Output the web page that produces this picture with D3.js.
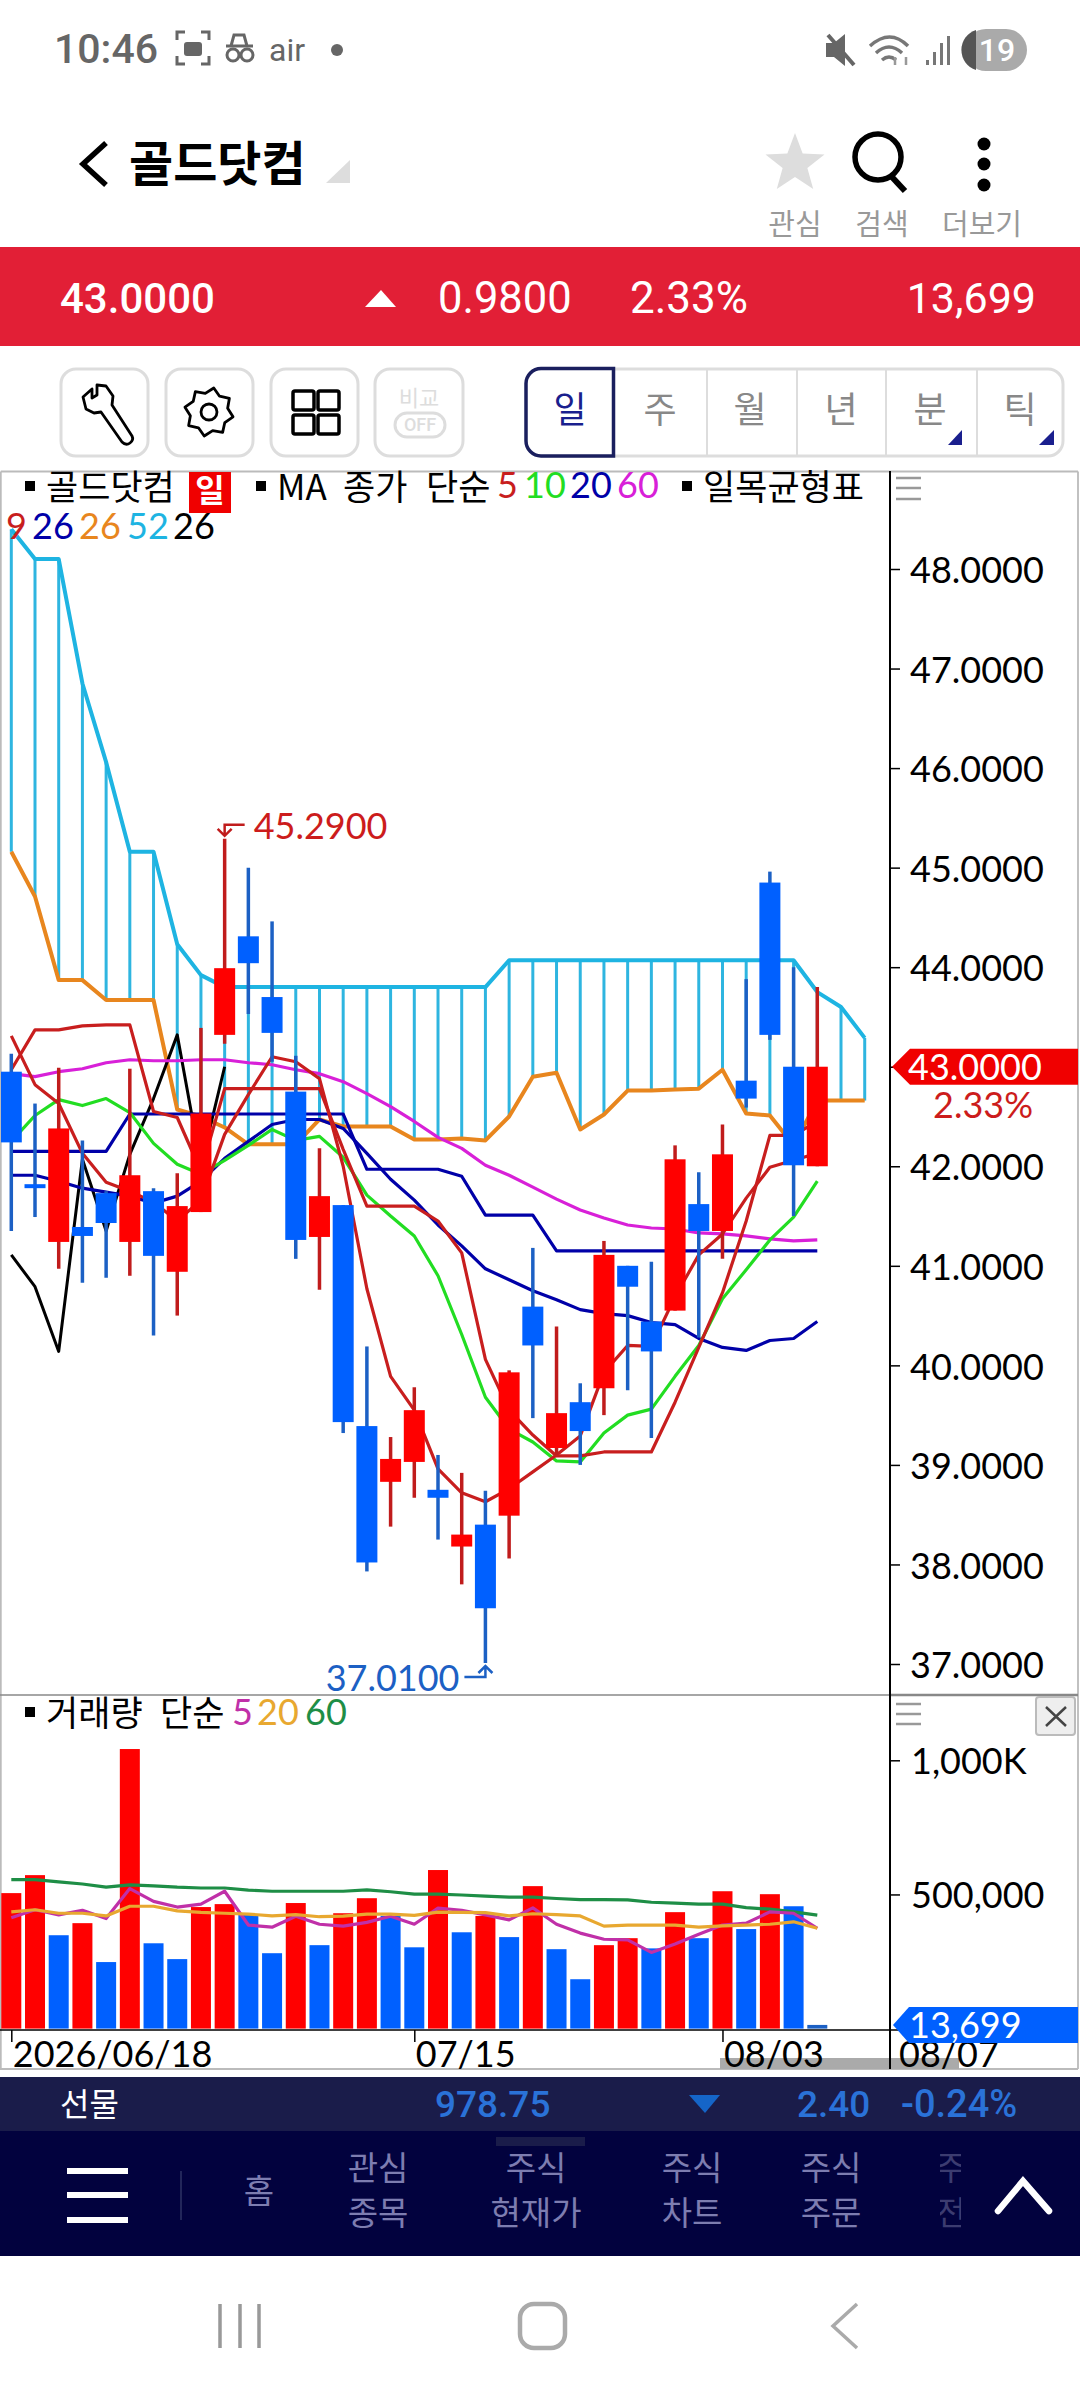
<!DOCTYPE html>
<html>
<head>
<meta charset="utf-8">
<title>골드닷컴</title>
<script src="https://cdn.jsdelivr.net/npm/d3@7"></script>
<style>
  html, body { margin: 0; padding: 0; background: #fff; }
  svg { display: block; }
  text { font-family: "Lato", "Noto Sans CJK KR", sans-serif; }
  .kr { font-family: "Noto Sans CJK KR", sans-serif; }
  .rb { font-family: "Roboto", "Noto Sans CJK KR", sans-serif; }
</style>
</head>
<body>
<div id="chart"></div>
<script>
// candles
var opens  = [42.95,41.82,41.24,41.39,41.73,41.24,41.75,40.94,41.54,43.32,44.31,43.70,42.75,41.29,41.61,39.39,38.83,39.03,38.75,38.18,38.40,38.49,40.59,39.17,39.63,39.77,41.00,40.44,40.55,41.62,41.35,42.86,44.85,43.00,42.00];
var highs  = [43.13,42.63,42.99,42.26,41.75,42.98,41.78,41.93,43.39,45.29,45.00,44.46,43.11,42.18,41.61,40.19,39.28,39.78,39.10,38.92,38.74,39.95,41.18,40.39,39.82,41.25,41.00,41.04,42.21,41.94,42.42,43.88,44.96,44.00,43.80];
var lows   = [41.35,41.49,40.97,40.83,40.88,40.90,40.30,40.50,41.54,43.23,43.53,43.05,41.07,40.76,39.32,37.93,38.38,38.67,38.25,37.80,37.01,38.06,39.47,39.10,39.00,39.50,39.75,39.27,40.55,40.28,41.07,42.59,43.27,41.50,42.00];
var closes = [42.24,41.78,42.38,41.30,41.43,41.91,41.10,41.60,42.53,43.99,44.04,43.34,41.26,41.70,39.43,38.02,39.06,39.55,38.67,38.30,37.56,39.93,40.20,39.52,39.34,41.11,40.79,40.14,42.07,41.35,42.12,42.68,43.32,42.01,43.00];

// moving averages on price
var ma5  = [43.31,42.82,42.63,42.13,41.84,41.75,41.64,41.45,41.66,42.32,42.72,43.10,43.05,42.88,42.00,40.77,39.89,39.55,38.96,38.72,38.63,38.76,38.93,39.10,39.29,39.93,40.20,40.19,40.69,41.11,41.32,41.68,41.99,42.06,42.13];
var ma10 = [42.25,42.51,42.67,42.61,42.68,42.54,42.23,42.02,41.92,42.06,42.21,42.37,42.26,42.30,42.09,41.71,41.50,41.30,40.90,40.31,39.68,39.36,39.23,39.04,39.03,39.32,39.50,39.56,39.89,40.20,40.67,40.96,41.26,41.49,41.85];
var ma20 = [41.91,41.91,41.85,41.78,41.74,41.70,41.63,41.70,41.85,42.08,42.25,42.42,42.47,42.47,42.38,42.13,41.87,41.66,41.41,41.20,40.97,40.86,40.75,40.66,40.56,40.52,40.50,40.43,40.41,40.27,40.18,40.15,40.25,40.27,40.44];
var ma60 = [42.93,42.90,42.95,42.98,43.04,43.07,43.06,43.06,43.07,43.07,43.04,43.02,42.97,42.93,42.85,42.73,42.60,42.45,42.29,42.18,42.01,41.91,41.79,41.67,41.56,41.48,41.41,41.38,41.37,41.33,41.32,41.30,41.27,41.25,41.26];

// ichimoku
var conversion = [42.97,43.37,43.37,43.41,43.42,43.42,42.55,42.49,41.95,42.78,42.78,42.78,42.78,42.78,42.17,41.60,41.60,41.60,41.45,41.13,40.06,39.55,39.30,39.09,39.09,39.13,39.13,39.13,39.63,40.18,40.73,41.45,42.31,42.31,42.45];
var baseLine = [42.15,42.15,42.15,42.15,42.15,42.525,42.525,42.525,42.525,42.525,42.525,42.525,42.525,42.525,42.525,41.97,41.97,41.97,41.97,41.90,41.51,41.51,41.51,41.15,41.15,41.15,41.15,41.15,41.15,41.15,41.15,41.15,41.15,41.15,41.15];
var spanA = [45.16,44.71,43.87,43.87,43.67,43.67,43.67,42.57,42.50,42.39,42.22,42.22,42.22,42.47,42.40,42.40,42.40,42.27,42.27,42.28,42.26,42.50,42.90,42.94,42.37,42.52,42.76,42.76,42.77,42.78,42.97,42.53,42.51,42.21,42.66,42.66,42.66];
var spanB = [48.40,48.10,48.10,46.85,46.06,45.16,45.16,44.23,43.92,43.80,43.80,43.80,43.80,43.80,43.80,43.80,43.80,43.80,43.80,43.80,43.80,44.07,44.07,44.07,44.07,44.07,44.07,44.07,44.07,44.07,44.07,44.07,44.07,44.07,43.75,43.60,43.29];
var lagging = [41.11,40.79,40.14,42.07,41.35,42.12,42.68,43.32,42.01,43.00];

// volume, volumeUp is 1 for a red bar and 0 for a blue one
var volumes = [505000,572000,348000,393000,248000,1042000,318000,259000,453000,464000,427000,281000,468000,311000,430000,486000,420000,303000,591000,359000,420000,341000,531000,296000,184000,311000,337000,299000,434000,337000,512000,371000,501000,456000,13699];
var volumeUp = [1,1,0,1,0,1,0,0,1,1,0,0,1,0,1,1,0,0,1,0,1,0,1,0,0,1,1,0,1,0,1,0,1,0,0];
var volMa5  = [413000,443000,424000,441000,410000,522000,474000,453000,464000,512000,386000,378000,419000,389000,382000,396000,419000,389000,449000,441000,424000,405000,450000,389000,356000,333000,331000,284000,315000,352000,386000,393000,435000,430000,374000];
var volMa20 = [435000,443000,430000,430000,420000,456000,456000,439000,433000,430000,427000,420000,425000,417000,419000,427000,427000,422000,434000,433000,432000,420000,428000,425000,420000,382000,386000,386000,386000,378000,383000,386000,389000,398000,374000];
var volMa60 = [555000,555000,547000,539000,527000,536000,532000,527000,524000,524000,516000,512000,512000,512000,512000,517000,510000,501000,501000,498000,494000,490000,490000,485000,481000,481000,480000,471000,468000,464000,464000,451000,445000,435000,423000];

// tick labels
var priceTicks = [37,38,39,40,41,42,43,44,45,46,47,48];
var volumeTicks = [500000,1000000];
var dateTickIndex = [0,17,30];
var dateTickLabels = ["2026/06/18","07/15","08/03"];
var lastDateLabel = "08/07";

var RED = "#ff0000", BLUE = "#0060ff", WICK_RED = "#c01c1c", WICK_BLUE = "#1c60c4";

var svg = d3.select("#chart").append("svg")
    .attr("width", 1080)
    .attr("height", 2400)
    .attr("viewBox", "0 0 1080 2400");

var x = d3.scaleLinear().domain([0, 34]).range([11.3, 817.3]);
var y = d3.scaleLinear().domain([37, 48]).range([1664, 569]);
var yVol = d3.scaleLinear().domain([0, 1000000]).range([2028.6, 1760.3]);

function label(g, px, py, txt, size, color, anchor, cls, weight) {
    return g.append("text")
        .attr("x", px)
        .attr("y", py)
        .attr("font-size", size)
        .attr("fill", color)
        .attr("text-anchor", anchor || "start")
        .attr("class", cls || null)
        .attr("font-weight", weight || null)
        .text(txt);
}

function lineOf(scale) {
    return d3.line()
        .x(function(d, i) { return x(i); })
        .y(function(d) { return scale(d); });
}

function drawSeries(g, values, scale, color, width) {
    g.append("path")
        .attr("d", lineOf(scale)(values))
        .attr("fill", "none")
        .attr("stroke", color)
        .attr("stroke-width", width)
        .attr("stroke-linejoin", "round");
}

/* ---------- status bar and header ---------- */
var header = svg.append("g");

label(header, 54, 63, "10:46", 41, "#666", "start", "rb", 500);
header.append("path").attr("d", "M177 40v-8h8M201 32h8v8M209 56v8h-8M185 64h-8v-8").attr("fill", "none").attr("stroke", "#666").attr("stroke-width", 3);
header.append("rect").attr("x", 184).attr("y", 42).attr("width", 18).attr("height", 14).attr("rx", 3).attr("fill", "#666");
header.append("path").attr("d", "M226 46h27M231 46l3-11h10l3 11").attr("fill", "none").attr("stroke", "#666").attr("stroke-width", 3);
header.append("circle").attr("cx", 233).attr("cy", 55).attr("r", 6).attr("fill", "none").attr("stroke", "#666").attr("stroke-width", 3);
header.append("circle").attr("cx", 247).attr("cy", 55).attr("r", 6).attr("fill", "none").attr("stroke", "#666").attr("stroke-width", 3);
label(header, 269, 61, "air", 32, "#666", "start", "rb");
header.append("circle").attr("cx", 337).attr("cy", 50).attr("r", 6).attr("fill", "#666");

header.append("path").attr("d", "M826 43h8l11-9v32l-11-9h-8z").attr("fill", "#666");
header.append("path").attr("d", "M828 35l26 30").attr("stroke", "#666").attr("stroke-width", 4);
header.append("path").attr("d", "M870 46q20-18 38 0M876 53q13-12 26 0M882 60q7-6 14 0").attr("fill", "none").attr("stroke", "#777").attr("stroke-width", 3.5);
header.append("path").attr("d", "M895 65v-8M906 65v-8").attr("fill", "none").attr("stroke", "#999").attr("stroke-width", 2.5);
[[926,60],[933,52],[940,43],[947,36]].forEach(function(s) {
    header.append("rect").attr("x", s[0]).attr("y", s[1]).attr("width", 3).attr("height", 65 - s[1]).attr("fill", "#777");
});
header.append("rect").attr("x", 965).attr("y", 29).attr("width", 62).attr("height", 42).attr("rx", 21).attr("fill", "#aaa");
header.append("path").attr("d", "M976 30a21 21 0 0 0 0 40z").attr("fill", "#555");
label(header, 997, 61, "19", 32, "#fff", "middle", "rb", 500);

header.append("path").attr("d", "M106 143L83 164L106 185").attr("fill", "none").attr("stroke", "#000").attr("stroke-width", 5.5);
label(header, 129, 181, "골드닷컴", 48, "#000", "start", "kr", 700);
header.append("path").attr("d", "M350 160V183H326z").attr("fill", "#ddd");

var starPts = d3.range(10).map(function(k) {
    var a = k * Math.PI / 5 - Math.PI / 2, r = k % 2 ? 13 : 31;
    return [795 + r * Math.cos(a), 164 + r * Math.sin(a)];
});
header.append("path").attr("d", d3.line().curve(d3.curveLinearClosed)(starPts)).attr("fill", "#ddd");
header.append("circle").attr("cx", 878).attr("cy", 157).attr("r", 23).attr("fill", "none").attr("stroke", "#000").attr("stroke-width", 5.5);
header.append("path").attr("d", "M891 176L905 191").attr("stroke", "#000").attr("stroke-width", 6);
[144,164,185].forEach(function(cy) {
    header.append("circle").attr("cx", 984).attr("cy", cy).attr("r", 6.5).attr("fill", "#000");
});
label(header, 795, 235, "관심", 29, "#999", "middle", "kr");
label(header, 882, 235, "검색", 29, "#999", "middle", "kr");
label(header, 982, 235, "더보기", 29, "#999", "middle", "kr");

/* ---------- quote banner ---------- */
var banner = svg.append("g");
banner.append("rect").attr("x", 0).attr("y", 247).attr("width", 1080).attr("height", 99).attr("fill", "#e21f36");
label(banner, 60, 313, "43.0000", 42, "#fff", "start", "rb", 500);
banner.append("path").attr("d", "M381 290L396 307H365z").attr("fill", "#fff");
label(banner, 438, 313, "0.9800", 43.5, "#fff", "start", "rb");
label(banner, 630, 313, "2.33%", 44, "#fff", "start", "rb");
label(banner, 1036, 313, "13,699", 43, "#fff", "end", "rb");

/* ---------- toolbar ---------- */
var tools = svg.append("g");
[[61,148],[166,253],[271,358],[375,463]].forEach(function(b) {
    tools.append("rect").attr("x", b[0]).attr("y", 369).attr("width", b[1] - b[0]).attr("height", 87).attr("rx", 15)
        .attr("fill", "#fff").attr("stroke", "#ddd").attr("stroke-width", 3);
});
tools.append("path")
    .attr("d", "M92 389l-9 8 3 12 8 4 7-1 21 30q4 4 8 1 4-3 2-7l-20-31 1-9-7-10-9-1 0 10-5 3z")
    .attr("fill", "none").attr("stroke", "#000").attr("stroke-width", 2.8).attr("stroke-linejoin", "round");
var gearPts = d3.range(16).map(function(k) {
    var a = k * Math.PI / 8 - Math.PI / 16, r = k % 2 ? 24.5 : 19;
    return [209 + r * Math.cos(a), 412 + r * Math.sin(a)];
});
tools.append("path").attr("d", d3.line().curve(d3.curveLinearClosed)(gearPts)).attr("fill", "none").attr("stroke", "#000").attr("stroke-width", 2.8).attr("stroke-linejoin", "round");
tools.append("circle").attr("cx", 209).attr("cy", 412).attr("r", 8).attr("fill", "none").attr("stroke", "#000").attr("stroke-width", 2.8);
[[293,391],[318,391],[293,415],[318,415]].forEach(function(p) {
    tools.append("rect").attr("x", p[0]).attr("y", p[1]).attr("width", 21).attr("height", 19).attr("rx", 2)
        .attr("fill", "none").attr("stroke", "#000").attr("stroke-width", 3.5);
});
label(tools, 419, 406, "비교", 22, "#ddd", "middle", "kr");
tools.append("rect").attr("x", 395).attr("y", 413).attr("width", 50).attr("height", 24).attr("rx", 12).attr("fill", "none").attr("stroke", "#ddd").attr("stroke-width", 3);
label(tools, 420, 431, "OFF", 18, "#ddd", "middle", "rb", 500);

tools.append("rect").attr("x", 527).attr("y", 369).attr("width", 536).attr("height", 87).attr("rx", 15).attr("fill", "#fff").attr("stroke", "#ddd").attr("stroke-width", 3);
[707,797,886,977].forEach(function(dx) {
    tools.append("line").attr("x1", dx).attr("x2", dx).attr("y1", 369).attr("y2", 456).attr("stroke", "#ddd").attr("stroke-width", 2);
});
tools.append("path").attr("d", "M613.5 368.5H541a15 15 0 0 0-15 15V441a15 15 0 0 0 15 15h72.5z").attr("fill", "#fff").attr("stroke", "#1a1f5e").attr("stroke-width", 3.5);
[["일",570,"#1a1f8e"],["주",660,"#888"],["월",750,"#888"],["년",841,"#888"],["분",930,"#888"],["틱",1020,"#888"]].forEach(function(t) {
    label(tools, t[1], 423, t[0], 36, t[2], "middle", "kr");
});
tools.append("path").attr("d", "M962 430V445H948z").attr("fill", "#1a1f8e");
tools.append("path").attr("d", "M1054 430V445H1039z").attr("fill", "#1a1f8e");

/* ---------- panel frame ---------- */
var frame = svg.append("g");
frame.append("path").attr("d", "M0.8 471.5H1078M0.8 471.5V2069M1078 471.5V2069M0 2069H1078").attr("fill", "none").attr("stroke", "#bbb").attr("stroke-width", 1.8);
frame.append("line").attr("x1", 0).attr("x2", 890).attr("y1", 1695).attr("y2", 1695).attr("stroke", "#888").attr("stroke-width", 1.5);
frame.append("line").attr("x1", 890).attr("x2", 1078).attr("y1", 1695).attr("y2", 1695).attr("stroke", "#888").attr("stroke-width", 2.5);
// scroll thumb sits under the date text
frame.append("rect").attr("x", 720).attr("y", 2058).attr("width", 239).attr("height", 11).attr("fill", "#aaa");

/* ---------- price panel ---------- */
svg.append("clipPath").attr("id", "priceClip").append("rect").attr("x", 1).attr("y", 473).attr("width", 889).attr("height", 1221);
var price = svg.append("g").attr("clip-path", "url(#priceClip)");

// cloud hatch, one stroke per day
price.append("g").selectAll("line")
    .data(spanB)
    .enter().append("line")
    .attr("x1", function(d, i) { return x(i); })
    .attr("x2", function(d, i) { return x(i); })
    .attr("y1", function(d) { return y(d); })
    .attr("y2", function(d, i) { return y(spanA[i]); })
    .attr("stroke", "#2eb5e0")
    .attr("stroke-width", 3);

drawSeries(price, spanA, y, "#e8861e", 4);
drawSeries(price, spanB, y, "#1eb4e2", 4);
drawSeries(price, lagging, y, "#000", 3);
drawSeries(price, ma60, y, "#d820d8", 3.2);
drawSeries(price, baseLine, y, "#0000a8", 3.2);
drawSeries(price, ma20, y, "#0000a8", 3.2);
drawSeries(price, ma10, y, "#22dd22", 3.2);
drawSeries(price, conversion, y, "#c81e1e", 3.2);
drawSeries(price, ma5, y, "#c81e1e", 3.2);

var candles = price.append("g").selectAll("g")
    .data(closes)
    .enter().append("g");

candles.append("line")
    .attr("x1", function(d, i) { return x(i); })
    .attr("x2", function(d, i) { return x(i); })
    .attr("y1", function(d, i) { return y(highs[i]); })
    .attr("y2", function(d, i) { return y(lows[i]); })
    .attr("stroke", function(d, i) { return d >= opens[i] ? WICK_RED : WICK_BLUE; })
    .attr("stroke-width", 3.5);

candles.append("rect")
    .attr("x", function(d, i) { return x(i) - 10.5; })
    .attr("y", function(d, i) { return y(Math.max(d, opens[i])); })
    .attr("width", 21)
    .attr("height", function(d, i) { return Math.abs(y(d) - y(opens[i])); })
    .attr("fill", function(d, i) { return d >= opens[i] ? RED : BLUE; });

// high / low markers
var hi = d3.max(highs), lo = d3.min(lows);
var hiX = x(highs.indexOf(hi)), loX = x(lows.indexOf(lo));
var marks = svg.append("g");
marks.append("path")
    .attr("d", "M" + (hiX + 20) + " " + (y(hi) - 14) + "H" + hiX + "V" + (y(hi) - 4) + "M" + (hiX - 7) + " " + (y(hi) - 10) + "L" + hiX + " " + (y(hi) - 3) + "L" + (hiX + 7) + " " + (y(hi) - 10))
    .attr("fill", "none").attr("stroke", WICK_RED).attr("stroke-width", 2.5);
label(marks, hiX + 29, y(hi), hi.toFixed(4), 36, "#cc1c1c");
marks.append("path")
    .attr("d", "M" + (loX - 21) + " " + (y(lo) + 14) + "H" + loX + "V" + (y(lo) + 4) + "M" + (loX - 7) + " " + (y(lo) + 10) + "L" + loX + " " + (y(lo) + 3) + "L" + (loX + 7) + " " + (y(lo) + 10))
    .attr("fill", "none").attr("stroke", WICK_BLUE).attr("stroke-width", 2.5);
label(marks, loX - 26, y(lo) + 28, lo.toFixed(4), 36, "#1c60c4", "end");

// price legend
var legend = svg.append("g");
legend.append("rect").attr("x", 25).attr("y", 481).attr("width", 10).attr("height", 10).attr("fill", "#000");
label(legend, 46, 500, "골드닷컴", 35, "#000", "start", "kr");
legend.append("rect").attr("x", 189).attr("y", 472).attr("width", 42).attr("height", 41).attr("fill", "#f00000");
label(legend, 210, 502, "일", 32, "#fff", "middle", "kr", 700);
legend.append("rect").attr("x", 256).attr("y", 481).attr("width", 10).attr("height", 10).attr("fill", "#000");
label(legend, 277, 500, "MA", 35, "#000", "start", "kr");
label(legend, 343, 500, "종가", 35, "#000", "start", "kr");
label(legend, 426, 500, "단순", 35, "#000", "start", "kr");
[["5",497,"#c81e1e"],["10",524,"#22dd22"],["20",570,"#0000a8"],["60",617,"#d820d8"]].forEach(function(t) {
    label(legend, t[1], 498, t[0], 36, t[2]);
});
legend.append("rect").attr("x", 682).attr("y", 481).attr("width", 10).attr("height", 10).attr("fill", "#000");
label(legend, 703, 500, "일목균형표", 35, "#000", "start", "kr");
[["9",6,"#c81e1e"],["26",32,"#0000a8"],["26",79,"#e8861e"],["52",127,"#1eb4e2"],["26",173,"#000"]].forEach(function(t) {
    label(legend, t[1], 539, t[0], 36, t[2]);
});

/* ---------- volume panel ---------- */
var volume = svg.append("g");
volume.append("g").selectAll("rect")
    .data(volumes)
    .enter().append("rect")
    .attr("x", function(d, i) { return x(i) - 10; })
    .attr("y", function(d) { return yVol(d); })
    .attr("width", 20)
    .attr("height", function(d) { return yVol(0) - yVol(d); })
    .attr("fill", function(d, i) { return i === volumes.length - 1 ? WICK_BLUE : (volumeUp[i] ? RED : BLUE); });

drawSeries(volume, volMa60, yVol, "#1e8e46", 3.2);
drawSeries(volume, volMa5, yVol, "#c030a8", 3.2);
drawSeries(volume, volMa20, yVol, "#e8a830", 3.2);

var volLegend = svg.append("g");
volLegend.append("rect").attr("x", 25).attr("y", 1707).attr("width", 10).attr("height", 10).attr("fill", "#000");
label(volLegend, 46, 1726, "거래량", 35, "#000", "start", "kr");
label(volLegend, 160, 1726, "단순", 35, "#000", "start", "kr");
[["5",232,"#c030a8"],["20",257,"#e8a830"],["60",305,"#1e8e46"]].forEach(function(t) {
    label(volLegend, t[1], 1725, t[0], 36, t[2]);
});

/* ---------- axes ---------- */
var priceAxis = svg.append("g")
    .attr("transform", "translate(890,0)")
    .call(d3.axisRight(y).tickValues(priceTicks).tickSize(10).tickPadding(10).tickFormat(d3.format(".4f")));

var volumeAxis = svg.append("g")
    .attr("transform", "translate(890,0)")
    .call(d3.axisRight(yVol).tickValues(volumeTicks).tickSize(10).tickPadding(11).tickFormat(function(d) {
        return d >= 1000000 ? "1,000K" : d3.format(",")(d);
    }));

var dateAxis = svg.append("g")
    .attr("transform", "translate(0,2030)")
    .call(d3.axisBottom(x).tickValues(dateTickIndex).tickSize(12).tickFormat(function(d) {
        return dateTickLabels[dateTickIndex.indexOf(d)];
    }));

[priceAxis, volumeAxis, dateAxis].forEach(function(a) {
    a.select(".domain").remove();
    a.selectAll("line").attr("stroke", "#000").attr("stroke-width", 1.5);
    a.selectAll("text").attr("font-family", "Lato").attr("font-size", 36).attr("fill", "#000");
});
priceAxis.selectAll("text").attr("dy", "0.38em");
volumeAxis.selectAll("text").attr("dy", "0.36em");
dateAxis.selectAll("text").attr("text-anchor", "start").attr("y", 11).attr("dy", "0.71em").attr("x", 1);

var axisLines = svg.append("g");
axisLines.append("line").attr("x1", 890).attr("x2", 890).attr("y1", 471).attr("y2", 2069).attr("stroke", "#000").attr("stroke-width", 2);
axisLines.append("line").attr("x1", 0).attr("x2", 1078).attr("y1", 2030).attr("y2", 2030).attr("stroke", "#000").attr("stroke-width", 1.5);

label(svg.append("g"), 899, 2067, lastDateLabel, 36, "#000");

// last price and last volume tags
var tags = svg.append("g");
var last = closes[closes.length - 1], lastVol = volumes[volumes.length - 1];
tags.append("path")
    .attr("d", "M892 " + y(last) + "L910 " + (y(last) - 18) + "H1078V" + (y(last) + 18) + "H910z")
    .attr("fill", "#f00000");
label(tags, 908, y(last) + 13, last.toFixed(4), 36, "#fff");
label(tags, 933, y(last) + 51, "2.33%", 36, "#cc1c1c");
tags.append("path")
    .attr("d", "M893 2025L909 2007H1078V2043H909z")
    .attr("fill", BLUE);
label(tags, 909, 2038, d3.format(",")(lastVol), 36, "#fff");

// menu and close buttons on the panels
[[478,488,499],[1704,1714,1724]].forEach(function(row) {
    row.forEach(function(ry) {
        tags.append("line").attr("x1", 896).attr("x2", 921).attr("y1", ry).attr("y2", ry).attr("stroke", "#999").attr("stroke-width", 2.5);
    });
});
tags.append("rect").attr("x", 1036).attr("y", 1697).attr("width", 39).attr("height", 38).attr("rx", 3).attr("fill", "#eee").attr("stroke", "#bbb").attr("stroke-width", 2);
tags.append("path").attr("d", "M1046 1707L1066 1726M1066 1707L1046 1726").attr("stroke", "#444").attr("stroke-width", 2.5);

/* ---------- bottom bars ---------- */
var bottom = svg.append("g");
bottom.append("rect").attr("x", 0).attr("y", 2077).attr("width", 1080).attr("height", 54).attr("fill", "#1a1c4a");
bottom.append("rect").attr("x", 0).attr("y", 2131).attr("width", 1080).attr("height", 125).attr("fill", "#02023e");
label(bottom, 60, 2116, "선물", 32, "#fff", "start", "kr");
label(bottom, 435, 2117, "978.75", 37, "#2a72d8", "start", "rb", 500);
bottom.append("path").attr("d", "M689 2095H720L705 2113z").attr("fill", "#1565c8");
label(bottom, 797, 2117, "2.40", 37, "#2a72d8", "start", "rb", 500);
label(bottom, 901, 2117, "-0.24%", 38, "#2a72d8", "start", "rb", 500);
bottom.append("rect").attr("x", 496).attr("y", 2137).attr("width", 89).attr("height", 9).attr("fill", "#1a1c4a");
[2168,2192,2217].forEach(function(by) {
    bottom.append("rect").attr("x", 67).attr("y", by).attr("width", 61).attr("height", 6).attr("fill", "#fff");
});
bottom.append("line").attr("x1", 181).attr("x2", 181).attr("y1", 2171).attr("y2", 2220).attr("stroke", "#22265a").attr("stroke-width", 2);
label(bottom, 259, 2203, "홈", 33, "#7d7db0", "middle", "kr");
[["관심","종목",378],["주식","현재가",536],["주식","차트",692],["주식","주문",831]].forEach(function(m) {
    label(bottom, m[2], 2180, m[0], 33, "#7d7db0", "middle", "kr");
    label(bottom, m[2], 2225, m[1], 33, "#7d7db0", "middle", "kr");
});
// the last menu item fades out behind the edge of the list
svg.append("clipPath").attr("id", "menuClip").append("rect").attr("x", 940).attr("y", 2150).attr("width", 21).attr("height", 90);
var menuEdge = bottom.append("g").attr("clip-path", "url(#menuClip)");
label(menuEdge, 951, 2180, "주", 33, "#3c3c70", "middle", "kr");
label(menuEdge, 951, 2225, "전", 33, "#3c3c70", "middle", "kr");
bottom.append("path").attr("d", "M998 2211L1023 2181L1049 2211").attr("fill", "none").attr("stroke", "#fff").attr("stroke-width", 6.5).attr("stroke-linecap", "round");

[220,240,259].forEach(function(sx) {
    bottom.append("line").attr("x1", sx).attr("x2", sx).attr("y1", 2304).attr("y2", 2348).attr("stroke", "#999").attr("stroke-width", 3.5);
});
bottom.append("rect").attr("x", 520).attr("y", 2304).attr("width", 45).attr("height", 44).attr("rx", 14).attr("fill", "none").attr("stroke", "#aaa").attr("stroke-width", 4.5);
bottom.append("path").attr("d", "M857 2304L833 2326L857 2348").attr("fill", "none").attr("stroke", "#aaa").attr("stroke-width", 3.5);
</script>
</body>
</html>
